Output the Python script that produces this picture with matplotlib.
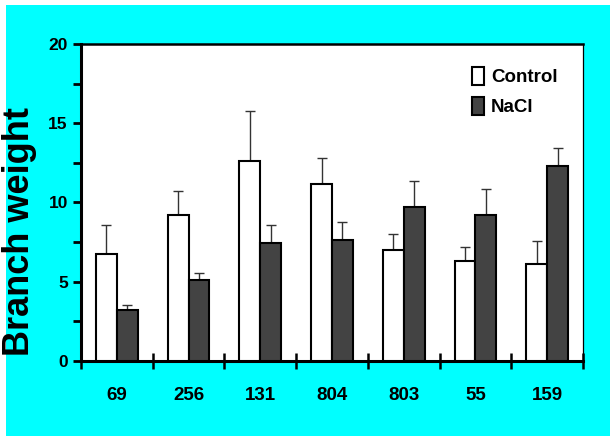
import matplotlib.pyplot as plt
import numpy as np
from matplotlib.patches import Rectangle

plt.rcParams['font.family'] = ['Liberation Sans', 'DejaVu Sans']
plt.rcParams['font.weight'] = 'bold'

# data
lines = ['69', '256', '131', '804', '803', '55', '159']
control = [6.75, 9.21, 12.62, 11.15, 7.02, 6.33, 6.12]
control_err = [1.81, 1.53, 3.15, 1.68, 0.99, 0.84, 1.43]
nacl = [3.24, 5.09, 7.42, 7.63, 9.74, 9.21, 12.30]
nacl_err = [0.29, 0.48, 1.14, 1.16, 1.62, 1.66, 1.16]

fig = plt.figure(figsize=(6.1, 4.36), dpi=100)
fig.patch.set_facecolor('white')
# cyan panel behind the plot
fig.patches.append(Rectangle((6 / 610, 0), 1, 431 / 436, transform=fig.transFigure,
                             facecolor='#00FFFF', edgecolor='none', zorder=-10))

ax = fig.add_axes([81 / 610, 75 / 436, 502 / 610, 317 / 436])
ax.set_facecolor('white')

x = np.arange(len(lines))
w = 0.29
err_kw = dict(ecolor='#333333', elinewidth=1.0, capsize=3.5, capthick=1.0)
ax.bar(x - w / 2, control, w, color='white', edgecolor='black', linewidth=1.5,
       label='Control', zorder=3)
ax.bar(x + w / 2, nacl, w, color='#434343', edgecolor='black', linewidth=1.5,
       label='NaCl', zorder=3)
ax.errorbar(x - w / 2, control, yerr=[np.zeros(len(x)), control_err], fmt='none',
            zorder=2, **err_kw)
ax.errorbar(x + w / 2, nacl, yerr=[np.zeros(len(x)), nacl_err], fmt='none',
            zorder=2, **err_kw)

ax.set_xlim(-0.5, len(lines) - 0.5)
ax.set_ylim(0, 20)

# x ticks sit between groups, labels at group centres
ax.set_xticks(np.arange(-0.5, len(lines), 1.0))
ax.set_xticklabels([])
ax.set_xticks(x, minor=True)
ax.set_xticklabels(lines, minor=True, fontsize=13.5, fontweight='bold')
ax.tick_params(axis='x', which='major', direction='inout', length=11, width=1.8)
ax.tick_params(axis='x', which='minor', length=0, pad=19)

ax.set_yticks([0, 5, 10, 15, 20])
ax.set_yticks(np.arange(2.5, 20, 5), minor=True)
ax.tick_params(axis='y', which='major', direction='out', length=6, width=2, labelsize=12.5)
ax.tick_params(axis='y', which='minor', direction='out', length=6, width=2)
for lab in ax.get_yticklabels():
    lab.set_fontweight('bold')

ax.spines['left'].set_linewidth(2.2)
ax.spines['bottom'].set_linewidth(2.2)
ax.spines['top'].set_linewidth(1.8)
ax.spines['right'].set_linewidth(0.9)

ax.set_ylabel('Branch weight', fontsize=26, fontweight='bold')
ax.yaxis.set_label_coords(-0.087, 0.41)

leg = ax.legend(loc='upper right', bbox_to_anchor=(0.964, 0.951), frameon=False,
                fontsize=13.5, handlelength=0.65, handleheight=1.1, handletextpad=0.35,
                labelspacing=0.55, borderaxespad=0)
for t in leg.get_texts():
    t.set_fontweight('bold')

plt.savefig('out.png', dpi=100)
